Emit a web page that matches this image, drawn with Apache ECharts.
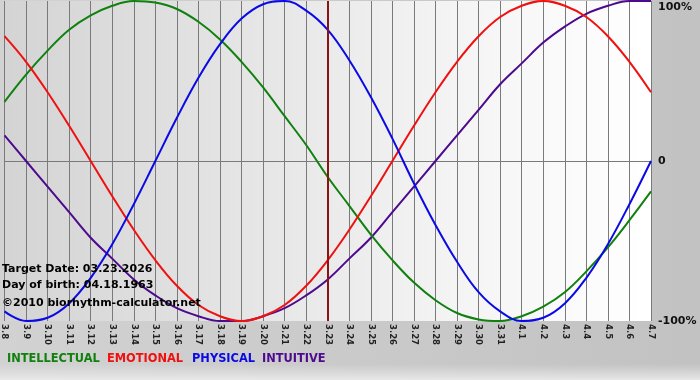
<!DOCTYPE html>
<html>
<head>
<meta charset="utf-8">
<script src="https://cdn.jsdelivr.net/npm/echarts@6/dist/echarts.min.js"></script>
<style>
html,body{margin:0;padding:0;background:#c6c6c6;}
#chart{width:700px;height:380px;}
</style>
</head>
<body>
<div id="chart"></div>
<script>
const dates = ['3.8','3.9','3.10','3.11','3.12','3.13','3.14','3.15','3.16','3.17','3.18','3.19','3.20','3.21','3.22','3.23','3.24','3.25','3.26','3.27','3.28','3.29','3.30','3.31','4.1','4.2','4.3','4.4','4.5','4.6','4.7'];
const intellectual = [0.37,0.54,0.69,0.82,0.91,0.97,1.00,0.99,0.95,0.87,0.76,0.62,0.46,0.28,0.10,-0.10,-0.28,-0.46,-0.62,-0.76,-0.87,-0.95,-0.99,-1.00,-0.97,-0.91,-0.82,-0.69,-0.54,-0.37,-0.19];
const emotional = [0.78,0.62,0.43,0.22,0,-0.22,-0.43,-0.62,-0.78,-0.90,-0.97,-1.00,-0.97,-0.90,-0.78,-0.62,-0.43,-0.22,0,0.22,0.43,0.62,0.78,0.90,0.97,1.00,0.97,0.90,0.78,0.62,0.43];
const physical = [-0.94,-1.00,-0.98,-0.89,-0.73,-0.52,-0.27,0,0.27,0.52,0.73,0.89,0.98,1.00,0.94,0.82,0.63,0.40,0.14,-0.14,-0.40,-0.63,-0.82,-0.94,-1.00,-0.98,-0.89,-0.73,-0.52,-0.27,0];
const intuitive = [0.16,0,-0.16,-0.32,-0.48,-0.61,-0.74,-0.84,-0.92,-0.97,-1.00,-1.00,-0.97,-0.92,-0.84,-0.74,-0.61,-0.48,-0.32,-0.16,0,0.16,0.32,0.48,0.61,0.74,0.84,0.92,0.97,1.00,1.00];
const targetDate = '3.23';
const yTicks = {'1':'100%','0':'0','-1':'-100%'};
const legendNames = ['INTELLECTUAL','EMOTIONAL','PHYSICAL','INTUITIVE'];
const infoLines = ['Target Date: 03.23.2026','Day of birth: 04.18.1963','\u00a92010 biorhythm-calculator.net'];

const colors = {INTELLECTUAL:'#10800f', EMOTIONAL:'#f01010', PHYSICAL:'#0a0ae6', INTUITIVE:'#4d0a8e'};
const FONT = 'DejaVu Sans, Verdana, sans-serif';

const chart = echarts.init(document.getElementById('chart'));

function line(name, data){
  return {
    name, type:'line', data, smooth:0.4, symbol:'none',
    lineStyle:{width:2, color:colors[name]}, itemStyle:{color:colors[name]}
  };
}
const series = [
  line('INTUITIVE', intuitive),
  line('INTELLECTUAL', intellectual),
  line('EMOTIONAL', emotional),
  line('PHYSICAL', physical)
];
series[0].markLine = {
  silent:true, symbol:'none', label:{show:false},
  lineStyle:{color:'#8a1414', width:2, type:'solid'},
  data:[{xAxis:targetDate}]
};

const legendX = [7,107,192,262];
const graphics = [
  {type:'rect', left:0, top:364, shape:{width:700, height:16},
   style:{fill:{type:'linear', x:0, y:0, x2:0, y2:1, colorStops:[{offset:0,color:'rgba(230,230,230,0)'},{offset:1,color:'rgba(235,235,235,0.9)'}]}}, z:-5}
];
legendNames.forEach((n,i)=>{
  graphics.push({type:'text', left:legendX[i], top:354, style:{text:n, fill:colors[n], font:'bold 11.4px '+FONT}});
});
infoLines.forEach((t,i)=>{
  graphics.push({type:'text', left:2, top:[264,280,298][i], style:{text:t, fill:'#000', font:'bold 11px '+FONT}, z:100});
});

chart.setOption({
  animation:false,
  backgroundColor:{type:'linear', x:0, y:0, x2:1, y2:0, colorStops:[{offset:0,color:'#d2d2d2'},{offset:1,color:'#c2c2c2'}]},
  grid:{left:0, right:49, top:1, bottom:59, show:true, borderWidth:0,
    backgroundColor:{type:'linear', x:0, y:0, x2:1, y2:0, colorStops:[{offset:0,color:'#d4d4d4'},{offset:0.7,color:'#f4f4f4'},{offset:1,color:'#ffffff'}]}},
  xAxis:{
    type:'category', data:dates, boundaryGap:false,
    axisLine:{show:false},
    axisTick:{show:true, length:4, lineStyle:{color:'#7a7a7a'}},
    splitLine:{show:true, lineStyle:{color:'#7a7a7a', width:1}},
    axisLabel:{rotate:-90, margin:3, interval:0, color:'#222', fontFamily:FONT, fontWeight:'bold', fontSize:8.5}
  },
  yAxis:{
    type:'value', position:'right', min:-1, max:1, interval:1,
    axisLine:{show:false}, axisTick:{show:false},
    splitLine:{show:true, lineStyle:{color:['rgba(0,0,0,0)','#7a7a7a','rgba(0,0,0,0)'], width:1}},
    axisLabel:{margin:7, color:'#111', fontFamily:FONT, fontWeight:'bold', fontSize:11,
      formatter:v=>{const s=yTicks[String(Math.round(v))]; return v>=1?'{top|'+s+'}':s;},
      rich:{top:{padding:[12,0,0,0], fontFamily:FONT, fontWeight:'bold', fontSize:11, color:'#111'}}}
  },
  series,
  graphic:graphics
});
</script>
</body>
</html>
